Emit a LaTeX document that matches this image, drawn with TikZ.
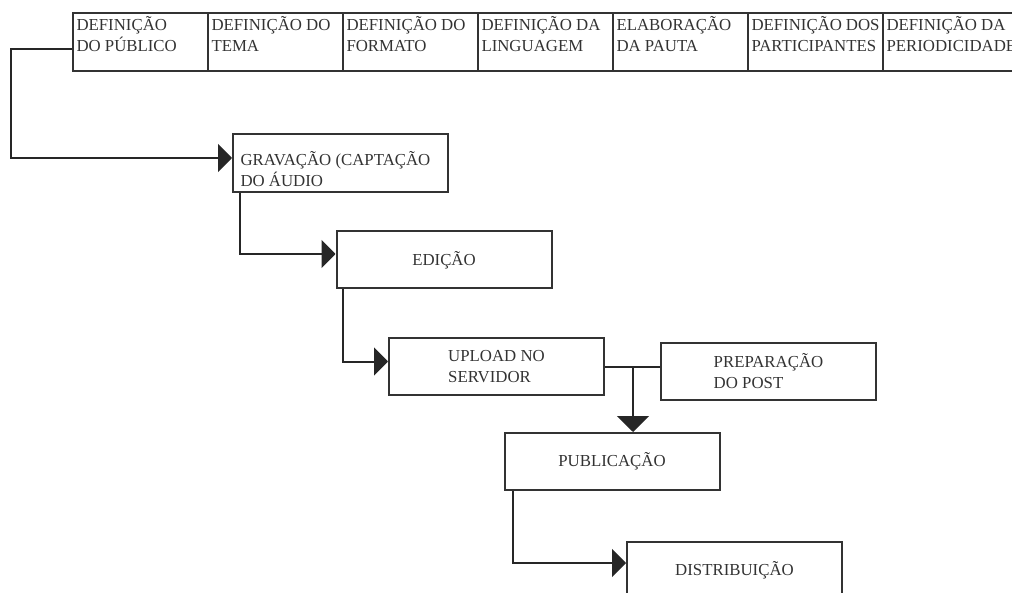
\documentclass[tikz,border=0pt]{standalone}
\usepackage{fontspec}
\setmainfont{Liberation Serif}
\usetikzlibrary{arrows.meta,calc}

\newcommand{\celltxt}[1]{\parbox[c][26pt][t]{64pt}{#1}}

\tikzset{
	cell/.style={draw=black!80, line width=1pt, anchor=north west, minimum width=67.5pt, minimum height=29pt, inner sep=0pt, text=black!80},
	stepbox/.style={draw=black!80, line width=1pt, minimum width=107.5pt, minimum height=28.5pt, inner sep=0pt, align=left, text=black!80},
	flow/.style={draw=black!85, line width=1pt, -{Triangle[length=7pt,width=14pt]}},
	link/.style={draw=black!85, line width=1pt}
}

\begin{document}
\begin{tikzpicture}[x=0.5pt,y=-0.5pt,font=\fontsize{8.4}{10.8}\selectfont]
	\useasboundingbox (0,0) rectangle (1012,593);
	\clip (0,0) rectangle (1012,593);
	\fill[white] (0,0) rectangle (1012,593);

	% planning row
	\node[cell] (pub) at (72,12) {\celltxt{DEFINIÇÃO\\DO PÚBLICO}};
	\node[cell] (tema) at (207,12) {\celltxt{DEFINIÇÃO~DO\\TEMA}};
	\node[cell] (formato) at (342,12) {\celltxt{DEFINIÇÃO~DO\\FORMATO}};
	\node[cell] (ling) at (477,12) {\celltxt{DEFINIÇÃO~DA\\LINGUAGEM}};
	\node[cell] (pauta) at (612,12) {\celltxt{ELABORAÇÃO\\DA PAUTA}};
	\node[cell] (part) at (747,12) {\celltxt{DEFINIÇÃO~DOS\\PARTICIPANTES}};
	\node[cell] (period) at (882,12) {\celltxt{DEFINIÇÃO~DA\\PERIODICIDADE}};

	% production steps
	\node[stepbox, minimum height=29pt] (grav) at (340.5,163) {\parbox[c][24pt][b]{100pt}{GRAVAÇÃO (CAPTAÇÃO\\DO ÁUDIO}};
	\node[stepbox] (edicao) at (444,260) {EDIÇÃO};
	\node[stepbox] (upload) at (496.5,366.5) {UPLOAD NO\\SERVIDOR};
	\node[stepbox] (prep) at (768.5,371) {PREPARAÇÃO\\DO POST};
	\node[stepbox] (publica) at (612,461.5) {PUBLICAÇÃO};
	\node[stepbox] (dist) at (734.5,570.5) {DISTRIBUIÇÃO};
	\coordinate (junc) at ($(upload.east)+(28,0)$);

	\draw[flow] ([yshift=-3.5pt]pub.west) -- ++(-61,0) |- ([yshift=2.5pt]grav.west);
	\draw[flow] ([xshift=4pt]grav.south west) |- ([yshift=3pt]edicao.west);
	\draw[flow] ([xshift=3.5pt]edicao.south west) |- ([yshift=2.5pt]upload.west);
	\draw[link] (upload.east) -- (junc) -- (junc -| prep.west);
	\draw[flow, -{Triangle[length=8pt,width=16pt]}] (junc) -- (junc |- publica.north);
	\draw[flow] ([xshift=4.5pt]publica.south west) |- ([yshift=3.75pt]dist.west);
\end{tikzpicture}
\end{document}
